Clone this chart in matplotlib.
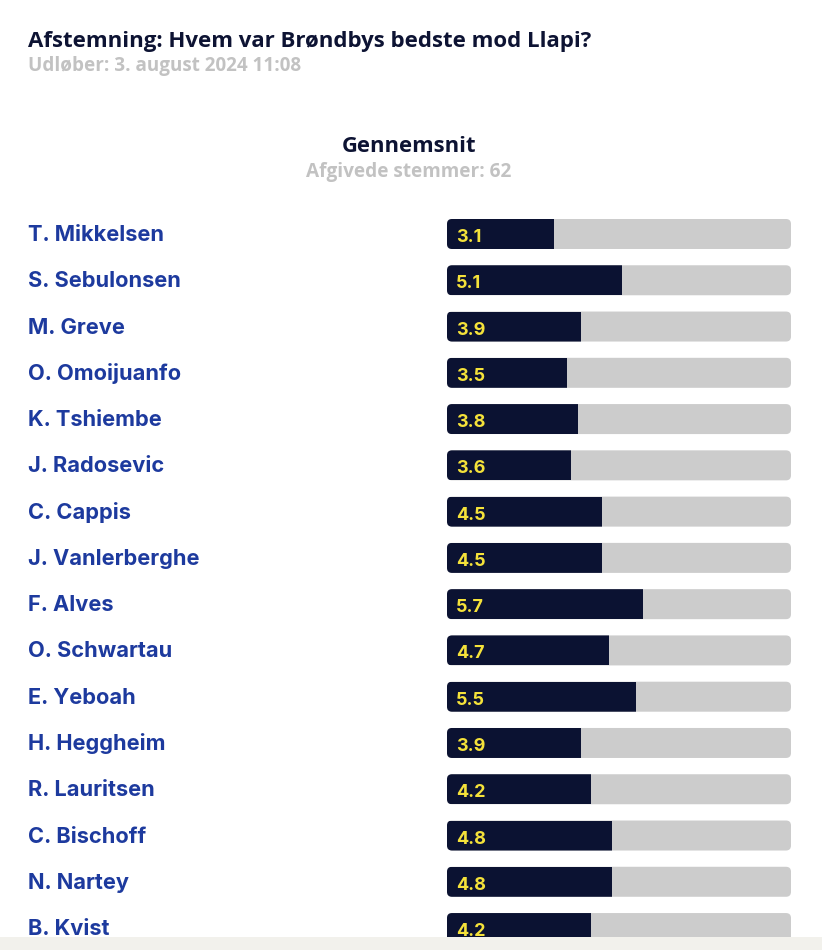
import matplotlib
matplotlib.use("Agg")
import matplotlib.pyplot as plt
from matplotlib.patches import FancyBboxPatch, Rectangle
from matplotlib.transforms import blended_transform_factory

title = "Afstemning: Hvem var Brøndbys bedste mod Llapi?"
subtitle = "Udløber: 3. august 2024 11:08"
chart_title = "Gennemsnit"
votes_label = "Afgivede stemmer: 62"
players = ["T. Mikkelsen", "S. Sebulonsen", "M. Greve", "O. Omoijuanfo", "K. Tshiembe",
           "J. Radosevic", "C. Cappis", "J. Vanlerberghe", "F. Alves", "O. Schwartau",
           "E. Yeboah", "H. Heggheim", "R. Lauritsen", "C. Bischoff", "N. Nartey", "B. Kvist"]
scores = [3.1, 5.1, 3.9, 3.5, 3.8, 3.6, 4.5, 4.5, 5.7, 4.7, 5.5, 3.9, 4.2, 4.8, 4.8, 4.2]
max_score = 10

W, H = 822, 950
fig = plt.figure(figsize=(W / 100, H / 100), dpi=100)
fig.patch.set_facecolor("white")

HEAD_FONT = "Open Sans"
NAME_FONT = "Inter"
NAVY = "#0b1232"
GREY_TXT = "#c2c2c2"
BLUE = "#1d3a9e"
BAR_BG = "#cccccc"
YELLOW = "#f5e23a"

def fx(px):
    return px / W

def fy(py):
    return 1 - py / H

x0, x1 = 447, 791
ax = fig.add_axes([fx(x0), 0, fx(x1) - fx(x0), 1])
ax.set_xlim(0, max_score)
pitch = 46.27
first_center = 234
ax.set_ylim((H - first_center) / pitch, -first_center / pitch)
ax.axis("off")

px_per_x = (x1 - x0) / max_score
bar_h_px = 30
bh = bar_h_px / pitch
r_px = 5
rx = r_px / px_per_x
ry = r_px / pitch
aspect = ry / rx
tr = blended_transform_factory(fig.transFigure, ax.transData)

for i, (name, val) in enumerate(zip(players, scores)):
    y = i
    bg = FancyBboxPatch((rx, y - bh / 2 + ry), max_score - 2 * rx, bh - 2 * ry,
                        boxstyle=f"round,pad={rx},rounding_size={rx}",
                        mutation_aspect=aspect, fc=BAR_BG, ec="none", zorder=1)
    ax.add_patch(bg)
    fg = Rectangle((0, y - bh / 2), val, bh, fc=NAVY, ec="none", zorder=2)
    ax.add_patch(fg)
    fg.set_clip_path(bg)
    ax.text(9 / px_per_x, y + 8 / pitch, f"{val:.1f}", color=YELLOW, fontsize=13,
            fontweight="bold", family=NAME_FONT, va="baseline", ha="left", zorder=3)
    ax.text(fx(28), y + 7 / pitch, name, transform=tr, color=BLUE, fontsize=15.7,
            fontweight="bold", family=NAME_FONT, va="baseline", ha="left", clip_on=False)

fig.text(fx(28), fy(47), title, color="#0d1333", fontsize=16, fontweight="bold",
         family=HEAD_FONT, va="baseline", ha="left")
fig.text(fx(28), fy(71), subtitle, color=GREY_TXT, fontsize=13.6, fontweight="bold",
         family=HEAD_FONT, va="baseline", ha="left")
fig.text(fx(409), fy(152), chart_title, color="#0d1333", fontsize=15.8, fontweight="bold",
         family=HEAD_FONT, va="baseline", ha="center")
fig.text(fx(409), fy(177), votes_label, color=GREY_TXT, fontsize=13.7, fontweight="bold",
         family=HEAD_FONT, va="baseline", ha="center")

fig.patches.append(Rectangle((0, 0), 1, 13 / H, transform=fig.transFigure,
                             fc="#f2f1ec", ec="none", zorder=10))

fig.savefig("out.png", dpi=100)
